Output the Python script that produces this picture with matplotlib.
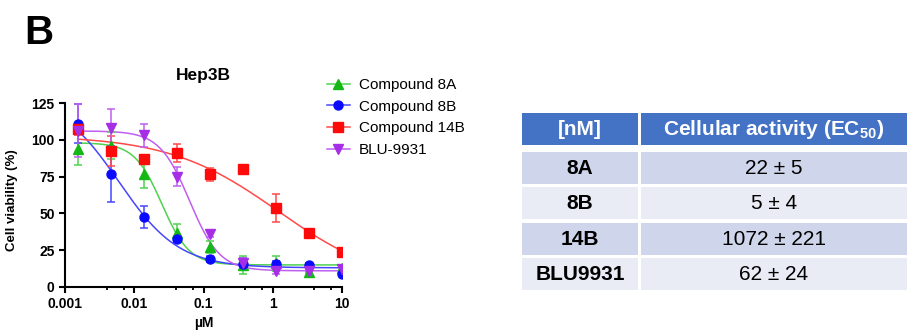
import numpy as np
import matplotlib
matplotlib.use("Agg")
import matplotlib.pyplot as plt
from matplotlib.patches import Rectangle
from matplotlib.lines import Line2D
from matplotlib.ticker import LogLocator, NullFormatter, FixedLocator

plt.rcParams['font.family'] = ['Liberation Sans', 'DejaVu Sans']
plt.rcParams['mathtext.default'] = 'regular'

# Концентрації (мкМ), 3-кратне розведення
conc = [0.00152, 0.00457, 0.0137, 0.0412, 0.123, 0.370, 1.11, 3.33, 10.0]

# Середні значення життєздатності (%) та похибки
names = ['Compound 8A', 'Compound 8B', 'Compound 14B', 'BLU-9931']
mean_8a = [94, 96, 77, 37, 27, 15, 16, 10, 13]
err_8a = [11, 9, 10, 6, 4, 6, 5, 1, 1]
mean_8b = [111, 77, 47.5, 32.5, 19, 15.5, 15.5, 15, 9]
err_8b = [13, 19, 7.5, 2, 2, 4, 2, 1, 1]
mean_14b = [107, 92.5, 87, 91, 76.5, 80.5, 53.5, 36.5, 23.5]
err_14b = [4, 10, 3, 6, 4.5, 1, 9.5, 1, 1]
mean_blu = [106, 108, 103, 75, 36, 16, 11, 11, 12]
err_blu = [18, 13, 8, 6.5, 2, 4, 2, 1, 1]

# Параметри 4PL-апроксимації: верх, низ, EC50 (мкМ), нахил
fit_8a = (98, 15, 0.025, 2.2)
fit_8b = (130, 13, 0.006, 1.0)
fit_14b = (103, 0, 1.2, 0.55)
fit_blu = (106, 11, 0.063, 2.0)

# Таблиця
tbl_header = ['[nM]', 'Cellular activity (EC$_{50}$)']
tbl_rows = ['8A', '8B', '14B', 'BLU9931']
tbl_vals = ['22 ± 5', '5 ± 4', '1072 ± 221', '62 ± 24']

means = [mean_8a, mean_8b, mean_14b, mean_blu]
errs = [err_8a, err_8b, err_14b, err_blu]
fits = [fit_8a, fit_8b, fit_14b, fit_blu]
markers = ['^', 'o', 's', 'v']
colors = ['#14b814', '#0a0aff', '#ff0a0a', '#a52ee6']
line_colors = ['#4fd24f', '#4646ff', '#ff4a4a', '#bf5ff0']

W, H = 907, 332
fig = plt.figure(figsize=(W / 100, H / 100), dpi=100)

def fx(px):
    return px / W

def fy(py):
    return 1 - py / H

ax = fig.add_axes([fx(65), fy(287), fx(342) - fx(65), fy(103) - fy(287)])

xs = np.logspace(np.log10(conc[0]), np.log10(conc[-1]), 300)
for m, e, f, mk, c, lc in zip(means, errs, fits, markers, colors, line_colors):
    top, bot, ec50, hill = f
    ax.plot(xs, bot + (top - bot) / (1 + (xs / ec50) ** hill), color=lc, lw=1.1, zorder=2)
    ax.errorbar(conc, m, yerr=e, fmt=mk, color=c, ecolor=lc, elinewidth=1.1,
                capsize=3, capthick=1.1, markersize=6.5, zorder=3)

ax.set_xscale('log')
ax.set_xlim(0.001, 10)
ax.set_ylim(0, 125)
ax.set_yticks([0, 25, 50, 75, 100, 125])
ax.xaxis.set_major_locator(FixedLocator([0.001, 0.01, 0.1, 1, 10]))
ax.set_xticklabels(['0.001', '0.01', '0.1', '1', '10'])
ax.xaxis.set_minor_locator(LogLocator(base=10, subs=(4, 7)))
ax.xaxis.set_minor_formatter(NullFormatter())
for s in ['top', 'right']:
    ax.spines[s].set_visible(False)
for s in ['left', 'bottom']:
    ax.spines[s].set_linewidth(1.5)
ax.tick_params(which='major', length=4.5, width=1.5, labelsize=10, pad=3)
ax.tick_params(which='minor', length=2.5, width=1.3)
for lab in ax.get_xticklabels() + ax.get_yticklabels():
    lab.set_fontweight('bold')
ax.set_ylabel('Cell viability (%)', fontsize=9.5, fontweight='bold')
ax.yaxis.set_label_coords(-0.17, 0.47)
ax.set_xlabel('µM', fontsize=10, fontweight='bold')
ax.xaxis.set_label_coords(0.5, -0.155)

fig.text(fx(203), fy(80), 'Hep3B', ha='center', va='baseline', fontsize=12.5, fontweight='bold')
fig.text(fx(24), fy(44), 'B', ha='left', va='baseline', fontsize=29, fontweight='bold')

handles = [Line2D([], [], color=lc, marker=mk, markerfacecolor=c, markeredgecolor=c,
                  markersize=6.5, lw=1.1) for mk, c, lc in zip(markers, colors, line_colors)]
fig.legend(handles, names, loc='upper left', bbox_to_anchor=(fx(327), fy(78)),
           bbox_transform=fig.transFigure, frameon=False, fontsize=11,
           handlelength=1.5, handletextpad=0.6, labelspacing=0.5,
           borderpad=0, borderaxespad=0)

# Таблиця EC50
tax = fig.add_axes([fx(522), fy(293), 1 - fx(522), fy(113) - fy(293)])
tax.set_xlim(0, W - 522)
tax.set_ylim(180, 0)
tax.axis('off')
col_x = [(0, 116), (119, W - 522)]
for x0, x1 in col_x:
    tax.add_patch(Rectangle((x0, 0), x1 - x0, 32, color='#4472c4', lw=0))
for (x0, x1), t in zip(col_x, tbl_header):
    tax.text((x0 + x1) / 2, 16.5, t, ha='center', va='center', color='white',
             fontsize=15, fontweight='bold')
row_colors = ['#cfd5ea', '#e9ebf5']
for i, (r, v) in enumerate(zip(tbl_rows, tbl_vals)):
    y0 = 39 + i * 35.3
    fc = row_colors[i % 2]
    for x0, x1 in col_x:
        tax.add_patch(Rectangle((x0, y0), x1 - x0, 32, color=fc, lw=0))
    tax.text(sum(col_x[0]) / 2, y0 + 16.5, r, ha='center', va='center', fontsize=15, fontweight='bold')
    tax.text(sum(col_x[1]) / 2, y0 + 16.5, v, ha='center', va='center', fontsize=15)

fig.savefig('out.png', dpi=100)
